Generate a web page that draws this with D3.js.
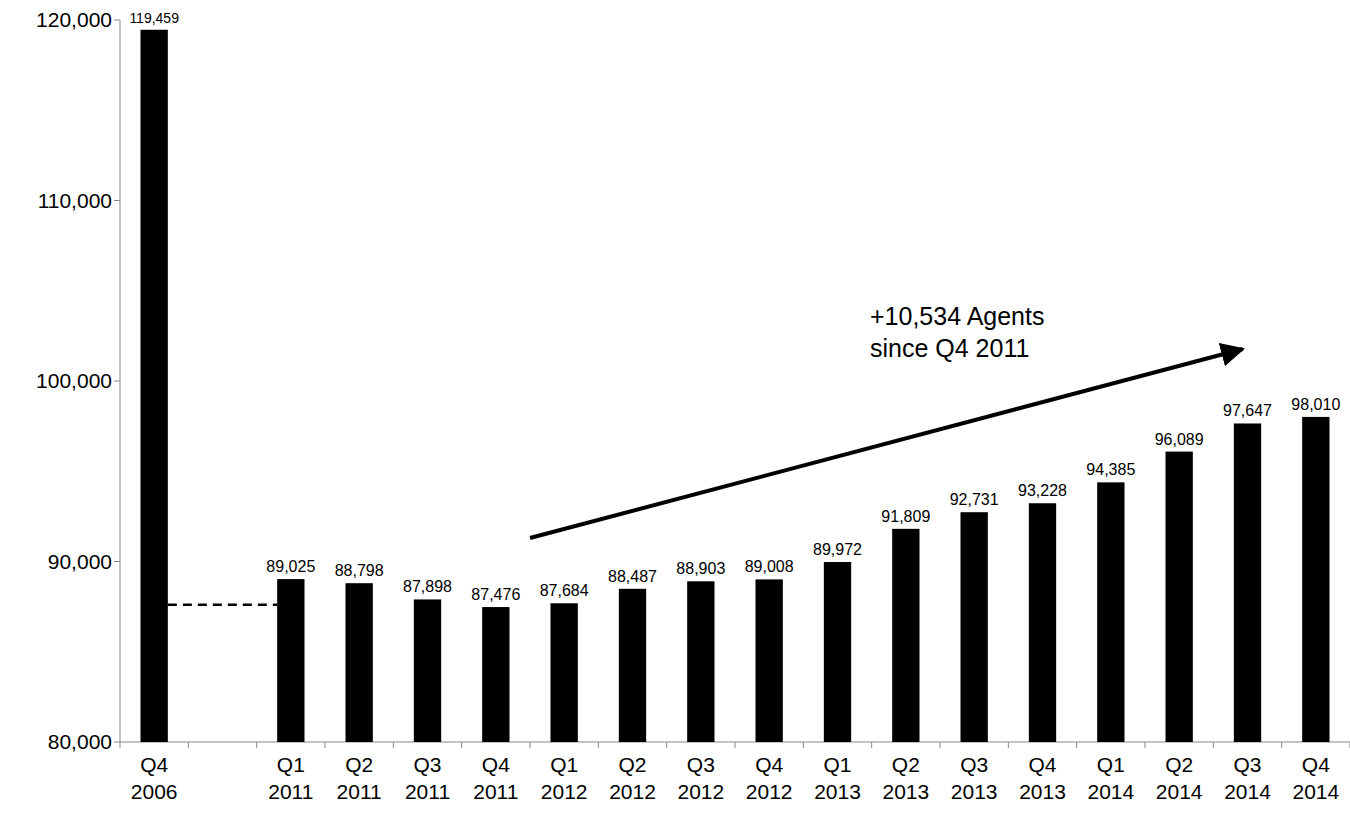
<!DOCTYPE html>
<html><head><meta charset="utf-8">
<script src="https://cdn.jsdelivr.net/npm/d3@7"></script>
<style>body{margin:0;background:#fff}text{font-family:"Liberation Sans",Arial,sans-serif}</style>
</head><body><svg id="c" width="1350" height="821"></svg>
<script>
const quarters = ["Q4", "", "Q1", "Q2", "Q3", "Q4", "Q1", "Q2", "Q3", "Q4", "Q1", "Q2", "Q3", "Q4", "Q1", "Q2", "Q3", "Q4"];
const years = ["2006", "", "2011", "2011", "2011", "2011", "2012", "2012", "2012", "2012", "2013", "2013", "2013", "2013", "2014", "2014", "2014", "2014"];
const agents = [119459, null, 89025, 88798, 87898, 87476, 87684, 88487, 88903, 89008, 89972, 91809, 92731, 93228, 94385, 96089, 97647, 98010];
const yTicks = [80000, 90000, 100000, 110000, 120000];
const dashedLevel = 87600;
const arrowFrom = [6.0, 91300], arrowTo = [16.43, 101770];
const note = ["+10,534 Agents", "since  Q4 2011"];

(function () {
const svg = d3.select("#c");
const mLeft = 120, mRight = 1350, mTop = 20, mBottom = 742;
const idx = d3.range(agents.length);
const x = d3.scaleBand().domain(idx).range([mLeft, mRight]).paddingInner(0.6).paddingOuter(0.3);
const slot = d3.scaleLinear().domain([0, agents.length]).range([mLeft, mRight]);
const y = d3.scaleLinear().domain([80000, 120000]).range([mBottom, mTop]);

// y axis
svg.append("line").attr("x1", mLeft).attr("x2", mLeft).attr("y1", mTop).attr("y2", mBottom).attr("stroke", "#888");
svg.selectAll(".yt").data(yTicks).join("line").attr("x1", mLeft - 6).attr("x2", mLeft)
  .attr("y1", d => y(d)).attr("y2", d => y(d)).attr("stroke", "#888");
svg.selectAll(".yl").data(yTicks).join("text").attr("x", mLeft - 8).attr("y", d => y(d) + 7)
  .attr("text-anchor", "end").attr("font-size", 21).text(d => d3.format(",")(d));
// x axis
svg.append("line").attr("x1", mLeft).attr("x2", mRight).attr("y1", mBottom).attr("y2", mBottom).attr("stroke", "#888");
svg.selectAll(".xt").data(d3.range(agents.length + 1)).join("line")
  .attr("x1", d => slot(d)).attr("x2", d => slot(d)).attr("y1", mBottom).attr("y2", mBottom + 6).attr("stroke", "#888");
const cx = i => x(i) + x.bandwidth() / 2;
svg.selectAll(".q").data(idx).join("text").attr("x", cx).attr("y", mBottom + 30)
  .attr("text-anchor", "middle").attr("font-size", 21).text(i => quarters[i]);
svg.selectAll(".yr").data(idx).join("text").attr("x", cx).attr("y", mBottom + 57)
  .attr("text-anchor", "middle").attr("font-size", 21).text(i => years[i]);

const vals = idx.filter(i => agents[i] != null);
svg.selectAll(".bar").data(vals).join("rect").attr("x", i => x(i)).attr("width", x.bandwidth())
  .attr("y", i => y(agents[i])).attr("height", i => mBottom - y(agents[i])).attr("fill", "#000");
svg.selectAll(".vl").data(vals).join("text").attr("x", cx).attr("y", i => y(agents[i]) - 7)
  .attr("text-anchor", "middle").attr("font-size", i => i === 0 ? 14 : 16).text(i => d3.format(",")(agents[i]));

svg.append("line").attr("x1", x(0) + x.bandwidth()).attr("x2", x(2)).attr("y1", y(dashedLevel)).attr("y2", y(dashedLevel))
  .attr("stroke", "#000").attr("stroke-width", 2.5).attr("stroke-dasharray", "9 6");

svg.append("defs").append("marker").attr("id", "ah").attr("viewBox", "0 0 10 10").attr("refX", 9).attr("refY", 5)
  .attr("markerWidth", 6).attr("markerHeight", 6).attr("orient", "auto")
  .append("path").attr("d", "M0,0L10,5L0,10z").attr("fill", "#000");
svg.append("line").attr("x1", slot(arrowFrom[0])).attr("y1", y(arrowFrom[1]))
  .attr("x2", slot(arrowTo[0])).attr("y2", y(arrowTo[1])).attr("stroke", "#000").attr("stroke-width", 4)
  .attr("marker-end", "url(#ah)");
svg.selectAll(".note").data(note).join("text").attr("x", 870).attr("y", (d, i) => 325 + i * 32)
  .attr("font-size", 25).text(d => d);
})();
</script></body></html>
